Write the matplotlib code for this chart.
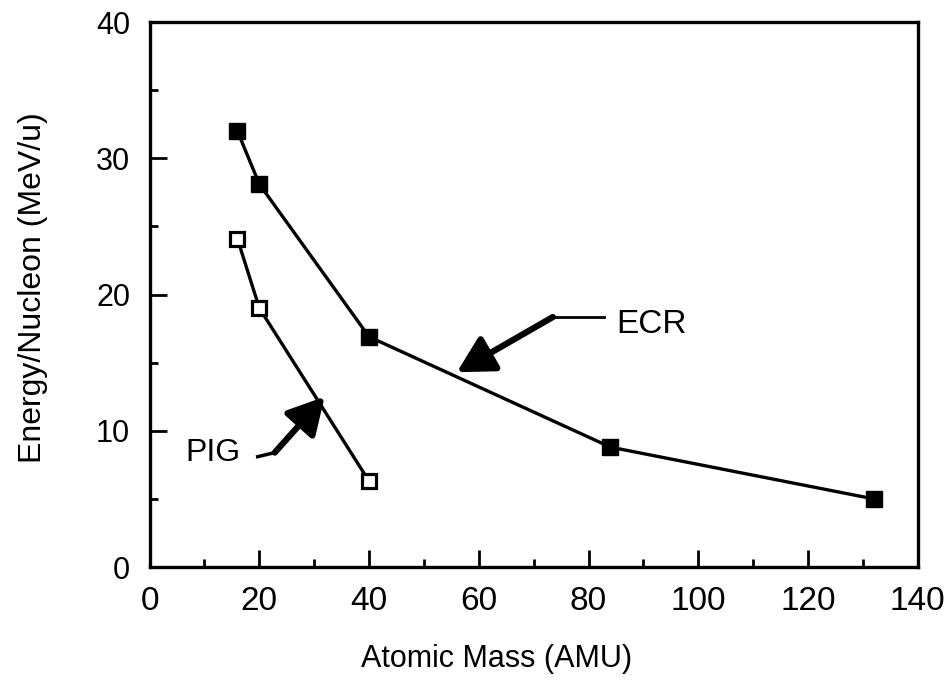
import matplotlib
matplotlib.use("Agg")
import matplotlib.pyplot as plt
from matplotlib.ticker import MultipleLocator

plt.rcParams['font.family'] = ['Liberation Sans', 'DejaVu Sans']

ecr_mass = [16, 20, 40, 84, 132]
ecr_energy = [32.0, 28.1, 16.9, 8.8, 5.0]
pig_mass = [16, 20, 40]
pig_energy = [24.1, 19.0, 6.3]

x_ticks = [0, 20, 40, 60, 80, 100, 120, 140]
y_ticks = [0, 10, 20, 30, 40]

fig = plt.figure(figsize=(9.53, 6.89), dpi=100)
ax = fig.add_axes([0.157, 0.177, 0.806, 0.791])

ax.plot(ecr_mass, ecr_energy, color='black', lw=2.4, marker='s', ms=12,
        mfc='black', mec='black', zorder=3)
ax.plot(pig_mass, pig_energy, color='black', lw=2.4, marker='s', ms=10.5,
        mfc='white', mec='black', mew=2.3, zorder=3)

ax.set_xlim(0, 140)
ax.set_ylim(0, 40)
ax.set_xticks(x_ticks)
ax.set_yticks(y_ticks)
ax.xaxis.set_minor_locator(MultipleLocator(10))
ax.yaxis.set_minor_locator(MultipleLocator(5))
ax.tick_params(axis='both', which='major', direction='in', length=12, width=2,
               top=False, right=False)
ax.tick_params(axis='both', which='minor', direction='in', length=6, width=2,
               top=False, right=False)
ax.tick_params(axis='x', labelsize=24, pad=14)
ax.tick_params(axis='y', labelsize=22, pad=14)
for s in ax.spines.values():
    s.set_linewidth(2.4)

ax.set_xlabel("Atomic Mass (AMU)", fontsize=22)
ax.set_ylabel("Energy/Nucleon (MeV/u)", fontsize=23)
ax.xaxis.set_label_coords(0.452, -0.142)
ax.yaxis.set_label_coords(-0.132, 0.512)

astyle = '-|>,head_length=0.55,head_width=0.3'

# ECR annotation
ax.plot([73.5, 82.9], [18.35, 18.35], color='black', lw=2)
ax.annotate("", xy=(56.0, 14.3), xytext=(73.5, 18.35),
            arrowprops=dict(arrowstyle=astyle, lw=4.5, color='black',
                            mutation_scale=40, shrinkA=0, shrinkB=0))
ax.text(85.0, 17.8, "ECR", fontsize=24, va='center', ha='left')

# PIG annotation
ax.plot([19.7, 22.8], [8.1, 8.4], color='black', lw=2.5)
ax.annotate("", xy=(31.9, 12.5), xytext=(22.8, 8.4),
            arrowprops=dict(arrowstyle=astyle, lw=4.5, color='black',
                            mutation_scale=40, shrinkA=0, shrinkB=0))
ax.text(6.6, 8.4, "PIG", fontsize=23, va='center', ha='left')

fig.savefig("out.png", dpi=100)
